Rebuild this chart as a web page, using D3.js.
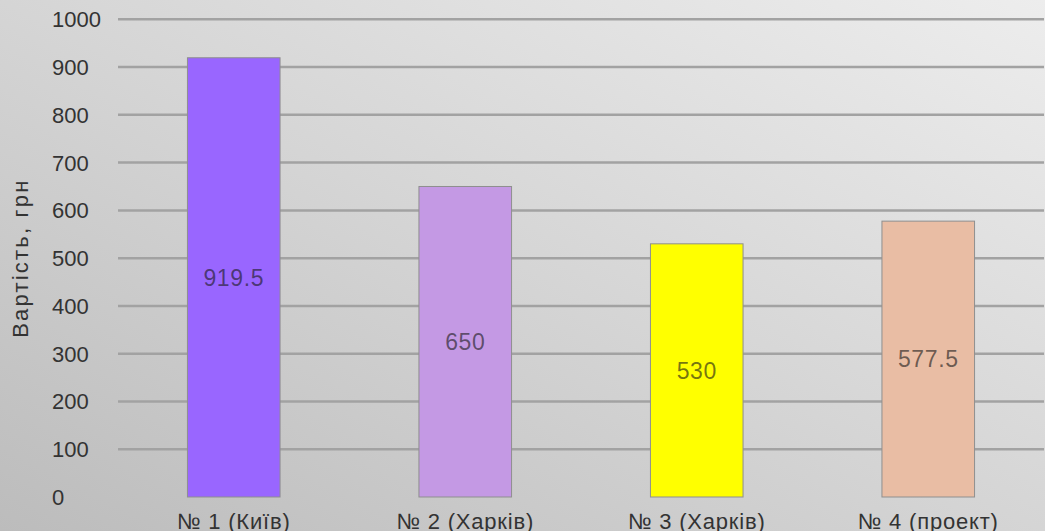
<!DOCTYPE html>
<html>
<head>
<meta charset="utf-8">
<script src="https://cdn.jsdelivr.net/npm/d3@7"></script>
<style>
  html, body { margin: 0; padding: 0; overflow: hidden; }
  svg { display: block; }
  text { font-family: "Liberation Sans", Arial, sans-serif; }
</style>
</head>
<body>
<script>
// Вартість по об'єктах, грн
const categories = ["№ 1 (Київ)", "№ 2 (Харків)", "№ 3 (Харків)", "№ 4 (проект)"];
const values = [919.5, 650, 530, 577.5];
const barColors = ["#9966ff", "#c499e4", "#ffff00", "#e9bda4"];
const yTicks = [0, 100, 200, 300, 400, 500, 600, 700, 800, 900, 1000];
const yTitle = "Вартість, грн";

const W = 1045, H = 531;
const plotLeft = 118, plotRight = 1044, plotTop = 19.3, plotBottom = 497;

const svg = d3.select("body").append("svg").attr("width", W).attr("height", H);

// Діагональний сірий фон
const defs = svg.append("defs");
const grad = defs.append("linearGradient").attr("id", "bg")
  .attr("x1", "100%").attr("y1", "0%").attr("x2", "0%").attr("y2", "100%");
grad.append("stop").attr("offset", "0%").attr("stop-color", "#ededed");
grad.append("stop").attr("offset", "50%").attr("stop-color", "#d5d5d5");
grad.append("stop").attr("offset", "100%").attr("stop-color", "#bcbcbc");
svg.append("rect").attr("width", W).attr("height", H).attr("fill", "url(#bg)");

const x = d3.scaleBand().domain(categories).range([plotLeft, plotRight])
  .paddingInner(0.6).paddingOuter(0.3);
const y = d3.scaleLinear().domain([0, 1000]).range([plotBottom, plotTop]);

// Горизонтальні лінії сітки (без нульової)
svg.append("g").selectAll("line").data(yTicks.filter(d => d > 0)).join("line")
  .attr("x1", plotLeft).attr("x2", plotRight)
  .attr("y1", d => y(d)).attr("y2", d => y(d))
  .attr("stroke", "#a2a2a2").attr("stroke-width", 2.5);

// Підписи осі Y
svg.append("g").selectAll("text").data(yTicks).join("text")
  .attr("x", 52).attr("y", d => y(d)).attr("dy", "0.36em")
  .attr("font-size", 22).attr("fill", "#333")
  .text(d => d);

// Назва осі Y
svg.append("text")
  .attr("transform", `translate(27.5, ${(plotTop + plotBottom) / 2}) rotate(-90)`)
  .attr("text-anchor", "middle").attr("font-size", 22).attr("letter-spacing", 2.2)
  .attr("fill", "#333")
  .text(yTitle);

// Стовпці
svg.append("g").selectAll("rect").data(values).join("rect")
  .attr("x", (d, i) => x(categories[i]))
  .attr("y", d => y(d))
  .attr("width", x.bandwidth())
  .attr("height", d => y(0) - y(d))
  .attr("fill", (d, i) => barColors[i])
  .attr("stroke", "#8f8f8f").attr("stroke-width", 1);

// Значення всередині стовпців
svg.append("g").selectAll("text").data(values).join("text")
  .attr("x", (d, i) => x(categories[i]) + x.bandwidth() / 2)
  .attr("y", d => (y(d) + y(0)) / 2).attr("dy", "0.36em")
  .attr("text-anchor", "middle").attr("font-size", 23).attr("letter-spacing", 0.6)
  .attr("fill", "#1a1a1a").attr("fill-opacity", 0.62)
  .text(d => d);

// Підписи категорій
svg.append("g").selectAll("text").data(categories).join("text")
  .attr("x", d => x(d) + x.bandwidth() / 2)
  .attr("y", 529)
  .attr("text-anchor", "middle").attr("font-size", 22).attr("letter-spacing", 0.8)
  .attr("fill", "#333")
  .text(d => d);
</script>
</body>
</html>
